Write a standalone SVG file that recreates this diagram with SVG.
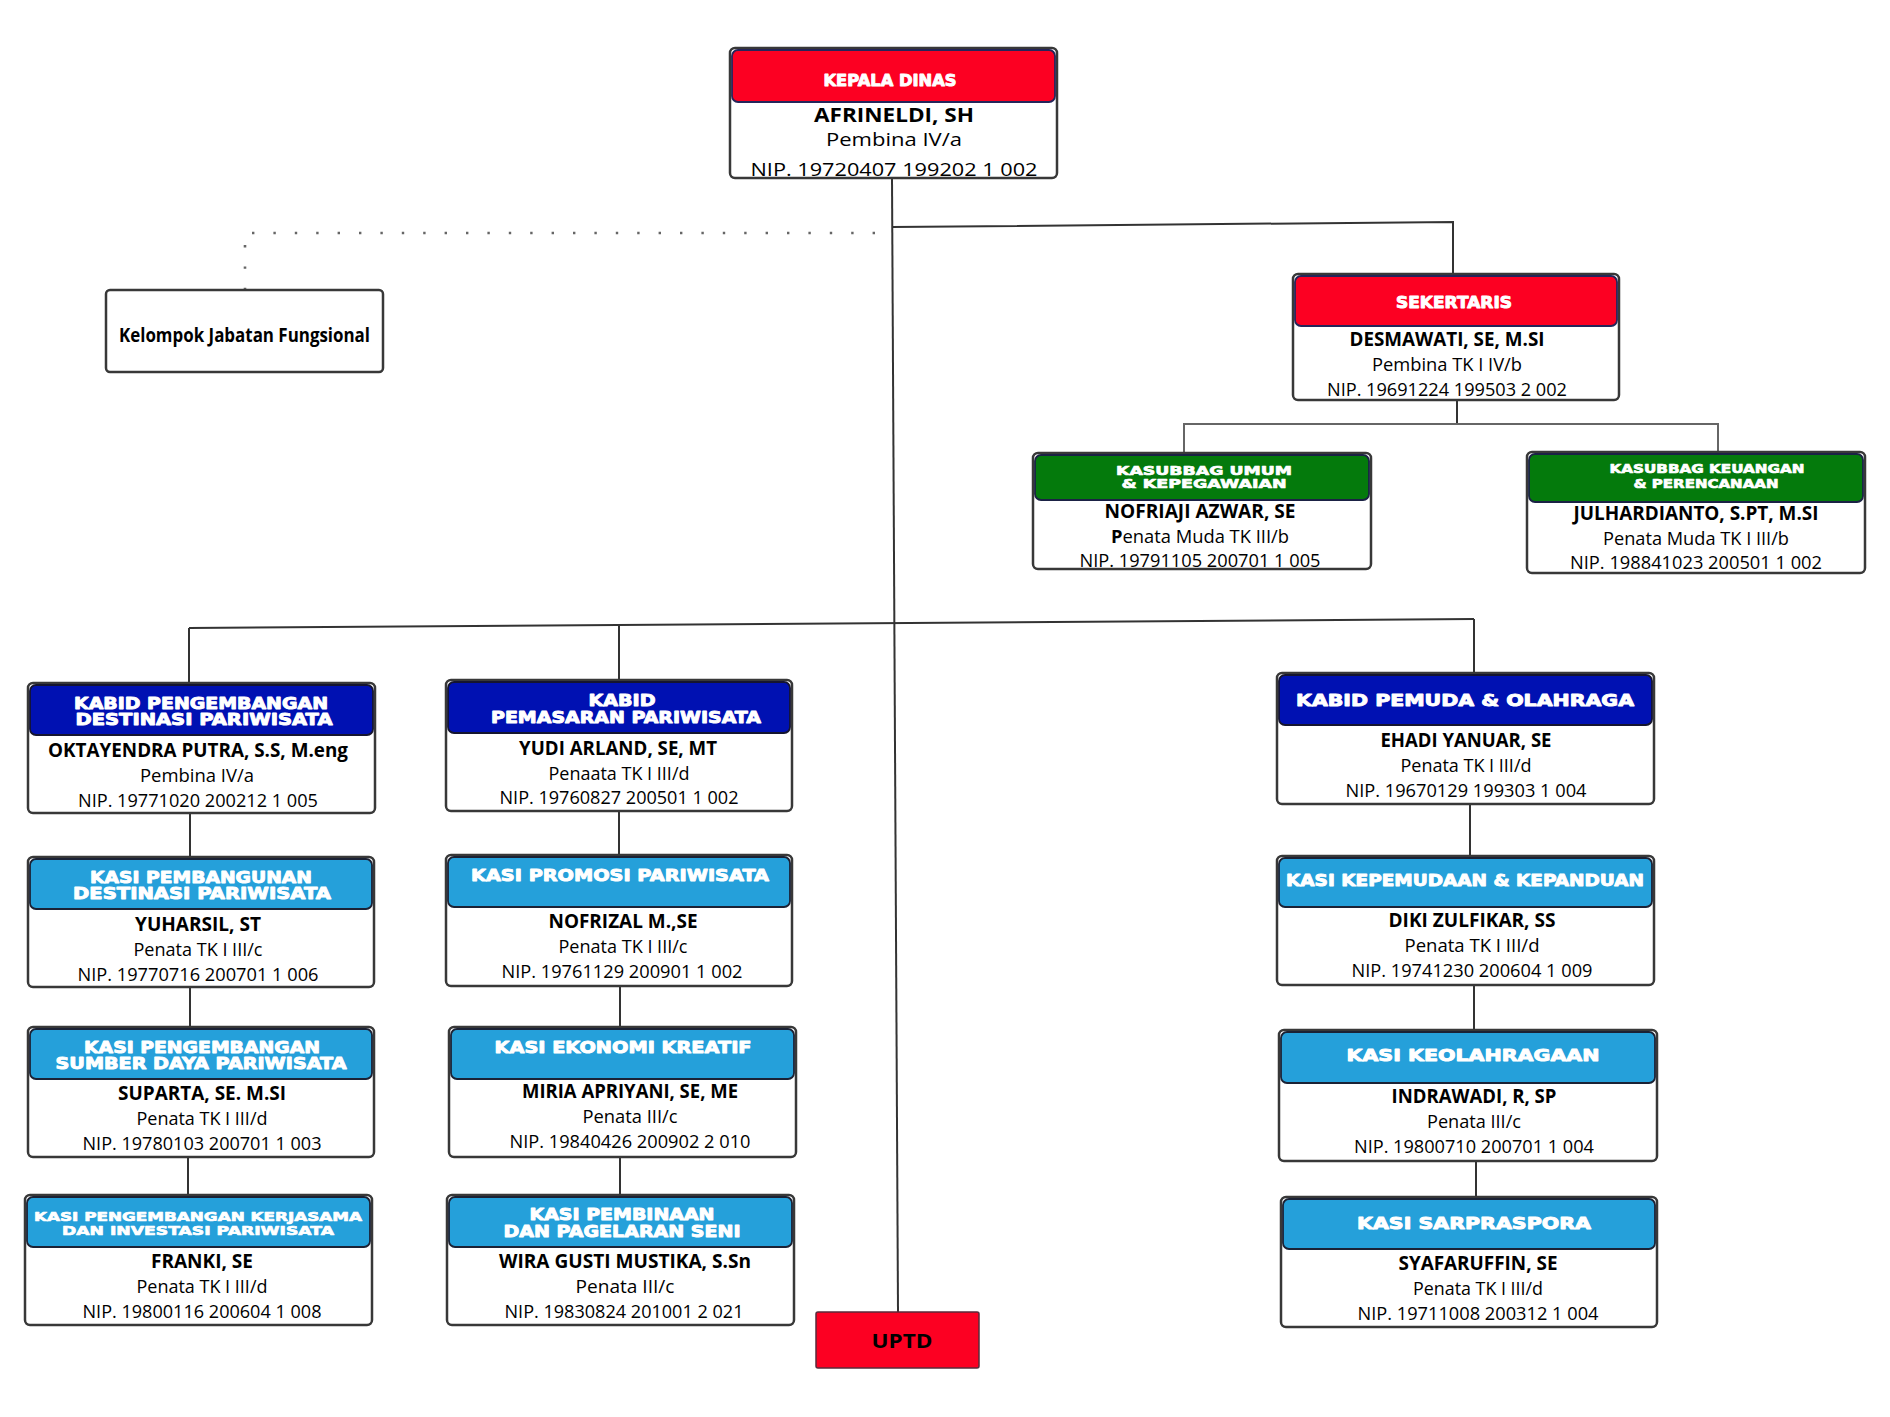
<svg xmlns="http://www.w3.org/2000/svg" width="1890" height="1417" viewBox="0 0 1890 1417">
<style>
.box{fill:#fff;stroke:#383838;stroke-width:2.5}
.hr{fill:#FC0022;stroke:#25255a;stroke-width:1.8}
.hb{fill:#0011B2;stroke:#151530;stroke-width:1.8}
.hl{fill:#25A0DA;stroke:#1b2235;stroke-width:1.8}
.hg{fill:#047A0C;stroke:#1b2245;stroke-width:1.8}
.ht{font-family:"DejaVu Sans",sans-serif;font-weight:700;fill:#fff;stroke:#fff;stroke-width:0.9;stroke-linejoin:round;text-anchor:middle;font-size:15px}
.hs{font-size:13px;stroke-width:0.7}
.nm{font-family:"Open Sans","Noto Sans",sans-serif;font-weight:700;font-size:19px;fill:#000;text-anchor:middle}
.tx{font-family:"Open Sans","Noto Sans",sans-serif;font-weight:400;font-size:18.5px;fill:#000;text-anchor:middle}
.ln{fill:none;stroke:#333;stroke-width:2}
.dot{fill:none;stroke:#666;stroke-width:2.6;stroke-dasharray:2.4 19}
</style>
<rect width="1890" height="1417" fill="#fff"/>
<g id="connectors">
<line class="ln" x1="892" y1="178" x2="898" y2="1312"/>
<polyline class="ln" points="892,227 1453,222 1453,274"/>
<polyline class="dot" points="875,233 245,233 245,290"/>
<line class="ln" x1="1457" y1="400" x2="1457" y2="424"/>
<polyline class="ln" style="stroke:#666" points="1184,453 1184,424 1718,424 1718,452"/>
<line class="ln" x1="189" y1="628" x2="1474" y2="619"/>
<line class="ln" x1="189" y1="628" x2="189" y2="683"/>
<line class="ln" x1="619" y1="625" x2="619" y2="680"/>
<line class="ln" x1="1474" y1="619" x2="1474" y2="673"/>
<line class="ln" x1="190" y1="813" x2="190" y2="857"/>
<line class="ln" x1="190" y1="987" x2="190" y2="1027"/>
<line class="ln" x1="188" y1="1157" x2="188" y2="1195"/>
<line class="ln" x1="619" y1="811" x2="619" y2="855"/>
<line class="ln" x1="620" y1="986" x2="620" y2="1027"/>
<line class="ln" x1="620" y1="1157" x2="620" y2="1195"/>
<line class="ln" x1="1470" y1="804" x2="1470" y2="856"/>
<line class="ln" x1="1474" y1="985" x2="1474" y2="1030"/>
<line class="ln" x1="1476" y1="1161" x2="1476" y2="1197"/>
</g>

<g id="kepala-dinas">
<rect class="box" x="730" y="48" width="327" height="130" rx="5"/>
<rect class="hr" x="732" y="50" width="323" height="52" rx="6"/>
<text class="ht" x="890" y="86" font-size="17" textLength="133" lengthAdjust="spacingAndGlyphs">KEPALA DINAS</text>
<text class="nm" x="894" y="122" font-size="21" textLength="160" lengthAdjust="spacingAndGlyphs">AFRINELDI, SH</text>
<text class="tx" x="894" y="146" font-size="22" textLength="136" lengthAdjust="spacingAndGlyphs">Pembina IV/a</text>
<text class="tx" x="894" y="176" font-size="22" textLength="287" lengthAdjust="spacingAndGlyphs">NIP. 19720407 199202 1 002</text>
</g>

<g id="kelompok-jabatan-fungsional">
<rect class="box" x="106" y="290" width="277" height="82" rx="4"/>
<text class="nm" x="244.5" y="342" font-size="18" textLength="251" lengthAdjust="spacingAndGlyphs">Kelompok Jabatan Fungsional</text>
</g>

<g id="sekertaris">
<rect class="box" x="1293" y="274" width="326" height="126" rx="5"/>
<rect class="hr" x="1295" y="276" width="322" height="50" rx="6"/>
<text class="ht" x="1454" y="308" font-size="18" textLength="116" lengthAdjust="spacingAndGlyphs">SEKERTARIS</text>
<text class="nm" x="1447" y="346" textLength="195" lengthAdjust="spacingAndGlyphs">DESMAWATI, SE, M.SI</text>
<text class="tx" x="1447" y="371" textLength="150" lengthAdjust="spacingAndGlyphs">Pembina TK I IV/b</text>
<text class="tx" x="1447" y="396" textLength="240" lengthAdjust="spacingAndGlyphs">NIP. 19691224 199503 2 002</text>
</g>

<g id="kasubbag-umum">
<rect class="box" x="1033" y="453" width="338" height="116" rx="5"/>
<rect class="hg" x="1035" y="455" width="334" height="45" rx="6"/>
<text class="ht hs" x="1204" y="475" textLength="176" lengthAdjust="spacingAndGlyphs">KASUBBAG UMUM</text>
<text class="ht hs" x="1204" y="488" textLength="165" lengthAdjust="spacingAndGlyphs">&amp; KEPEGAWAIAN</text>
<text class="nm" x="1200" y="518" textLength="191" lengthAdjust="spacingAndGlyphs">NOFRIAJI AZWAR, SE</text>
<text class="tx" x="1200" y="543" textLength="178" lengthAdjust="spacingAndGlyphs"><tspan font-weight="700">P</tspan>enata Muda TK III/b</text>
<text class="tx" x="1200" y="567" textLength="241" lengthAdjust="spacingAndGlyphs">NIP. 19791105 200701 1 005</text>
</g>

<g id="kasubbag-keuangan">
<rect class="box" x="1527" y="452" width="338" height="121" rx="5"/>
<rect class="hg" x="1529" y="454" width="334" height="48" rx="6"/>
<text class="ht hs" x="1707" y="473" textLength="195" lengthAdjust="spacingAndGlyphs">KASUBBAG KEUANGAN</text>
<text class="ht hs" x="1706" y="488" textLength="145" lengthAdjust="spacingAndGlyphs">&amp; PERENCANAAN</text>
<text class="nm" x="1696" y="520" textLength="245" lengthAdjust="spacingAndGlyphs">JULHARDIANTO, S.PT, M.SI</text>
<text class="tx" x="1696" y="545" textLength="186" lengthAdjust="spacingAndGlyphs">Penata Muda TK I III/b</text>
<text class="tx" x="1696" y="569" textLength="252" lengthAdjust="spacingAndGlyphs">NIP. 198841023 200501 1 002</text>
</g>

<g id="kabid-pengembangan-destinasi">
<rect class="box" x="28" y="683" width="347" height="130" rx="5"/>
<rect class="hb" x="30" y="685" width="343" height="50" rx="6"/>
<text class="ht" x="201" y="709" textLength="254" lengthAdjust="spacingAndGlyphs">KABID PENGEMBANGAN</text>
<text class="ht" x="204" y="725" textLength="257" lengthAdjust="spacingAndGlyphs">DESTINASI PARIWISATA</text>
<text class="nm" x="198" y="757" textLength="300" lengthAdjust="spacingAndGlyphs">OKTAYENDRA PUTRA, S.S, M.eng</text>
<text class="tx" x="197" y="782" textLength="114" lengthAdjust="spacingAndGlyphs">Pembina IV/a</text>
<text class="tx" x="198" y="807" textLength="240" lengthAdjust="spacingAndGlyphs">NIP. 19771020 200212 1 005</text>
</g>

<g id="kasi-pembangunan-destinasi">
<rect class="box" x="28" y="857" width="346" height="130" rx="5"/>
<rect class="hl" x="30" y="859" width="342" height="50" rx="6"/>
<text class="ht" x="201" y="883" textLength="222" lengthAdjust="spacingAndGlyphs">KASI PEMBANGUNAN</text>
<text class="ht" x="202" y="899" textLength="258" lengthAdjust="spacingAndGlyphs">DESTINASI PARIWISATA</text>
<text class="nm" x="198" y="931" textLength="126" lengthAdjust="spacingAndGlyphs">YUHARSIL, ST</text>
<text class="tx" x="198" y="956" textLength="129" lengthAdjust="spacingAndGlyphs">Penata TK I III/c</text>
<text class="tx" x="198" y="981" textLength="241" lengthAdjust="spacingAndGlyphs">NIP. 19770716 200701 1 006</text>
</g>

<g id="kasi-pengembangan-sdp">
<rect class="box" x="28" y="1027" width="346" height="130" rx="5"/>
<rect class="hl" x="30" y="1029" width="342" height="50" rx="6"/>
<text class="ht" x="202" y="1053" textLength="236" lengthAdjust="spacingAndGlyphs">KASI PENGEMBANGAN</text>
<text class="ht" x="201" y="1069" textLength="291" lengthAdjust="spacingAndGlyphs">SUMBER DAYA PARIWISATA</text>
<text class="nm" x="202" y="1100" textLength="168" lengthAdjust="spacingAndGlyphs">SUPARTA, SE. M.SI</text>
<text class="tx" x="202" y="1125" textLength="131" lengthAdjust="spacingAndGlyphs">Penata TK I III/d</text>
<text class="tx" x="202" y="1150" textLength="239" lengthAdjust="spacingAndGlyphs">NIP. 19780103 200701 1 003</text>
</g>

<g id="kasi-pengembangan-kerjasama">
<rect class="box" x="25" y="1195" width="347" height="130" rx="5"/>
<rect class="hl" x="27" y="1197" width="343" height="50" rx="6"/>
<text class="ht hs" x="198" y="1221" textLength="328" lengthAdjust="spacingAndGlyphs">KASI PENGEMBANGAN KERJASAMA</text>
<text class="ht hs" x="198" y="1235" textLength="272" lengthAdjust="spacingAndGlyphs">DAN INVESTASI PARIWISATA</text>
<text class="nm" x="202" y="1268" textLength="102" lengthAdjust="spacingAndGlyphs">FRANKI, SE</text>
<text class="tx" x="202" y="1293" textLength="131" lengthAdjust="spacingAndGlyphs">Penata TK I III/d</text>
<text class="tx" x="202" y="1318" textLength="239" lengthAdjust="spacingAndGlyphs">NIP. 19800116 200604 1 008</text>
</g>

<g id="kabid-pemasaran">
<rect class="box" x="446" y="680" width="346" height="131" rx="5"/>
<rect class="hb" x="448" y="682" width="342" height="51" rx="6"/>
<text class="ht" x="622" y="706" textLength="67" lengthAdjust="spacingAndGlyphs">KABID</text>
<text class="ht" x="626" y="723" textLength="270" lengthAdjust="spacingAndGlyphs">PEMASARAN PARIWISATA</text>
<text class="nm" x="618" y="755" textLength="198" lengthAdjust="spacingAndGlyphs">YUDI ARLAND, SE, MT</text>
<text class="tx" x="619" y="780" textLength="141" lengthAdjust="spacingAndGlyphs">Penaata TK I III/d</text>
<text class="tx" x="619" y="804" textLength="239" lengthAdjust="spacingAndGlyphs">NIP. 19760827 200501 1 002</text>
</g>

<g id="kasi-promosi">
<rect class="box" x="446" y="855" width="346" height="131" rx="5"/>
<rect class="hl" x="448" y="857" width="342" height="50" rx="6"/>
<text class="ht" x="620" y="881" textLength="298" lengthAdjust="spacingAndGlyphs">KASI PROMOSI PARIWISATA</text>
<text class="nm" x="623" y="928" textLength="149" lengthAdjust="spacingAndGlyphs">NOFRIZAL M.,SE</text>
<text class="tx" x="623" y="953" textLength="129" lengthAdjust="spacingAndGlyphs">Penata TK I III/c</text>
<text class="tx" x="622" y="978" textLength="241" lengthAdjust="spacingAndGlyphs">NIP. 19761129 200901 1 002</text>
</g>

<g id="kasi-ekonomi-kreatif">
<rect class="box" x="449" y="1027" width="347" height="130" rx="5"/>
<rect class="hl" x="451" y="1029" width="343" height="50" rx="6"/>
<text class="ht" x="623" y="1053" textLength="257" lengthAdjust="spacingAndGlyphs">KASI EKONOMI KREATIF</text>
<text class="nm" x="630" y="1098" textLength="216" lengthAdjust="spacingAndGlyphs">MIRIA APRIYANI, SE, ME</text>
<text class="tx" x="630" y="1123" textLength="95" lengthAdjust="spacingAndGlyphs">Penata III/c</text>
<text class="tx" x="630" y="1148" textLength="241" lengthAdjust="spacingAndGlyphs">NIP. 19840426 200902 2 010</text>
</g>

<g id="kasi-pembinaan">
<rect class="box" x="447" y="1195" width="347" height="130" rx="5"/>
<rect class="hl" x="449" y="1197" width="343" height="50" rx="6"/>
<text class="ht" x="622" y="1220" textLength="185" lengthAdjust="spacingAndGlyphs">KASI PEMBINAAN</text>
<text class="ht" x="622" y="1237" textLength="237" lengthAdjust="spacingAndGlyphs">DAN PAGELARAN SENI</text>
<text class="nm" x="625" y="1268" textLength="252" lengthAdjust="spacingAndGlyphs">WIRA GUSTI MUSTIKA, S.Sn</text>
<text class="tx" x="625" y="1293" textLength="99" lengthAdjust="spacingAndGlyphs">Penata  III/c</text>
<text class="tx" x="624" y="1318" textLength="239" lengthAdjust="spacingAndGlyphs">NIP. 19830824 201001 2 021</text>
</g>

<g id="kabid-pemuda-olahraga">
<rect class="box" x="1277" y="673" width="377" height="131" rx="5"/>
<rect class="hb" x="1279" y="675" width="373" height="50" rx="6"/>
<text class="ht" x="1465" y="706" textLength="338" lengthAdjust="spacingAndGlyphs">KABID PEMUDA &amp; OLAHRAGA</text>
<text class="nm" x="1466" y="747" textLength="171" lengthAdjust="spacingAndGlyphs">EHADI YANUAR, SE</text>
<text class="tx" x="1466" y="772" textLength="131" lengthAdjust="spacingAndGlyphs">Penata TK I III/d</text>
<text class="tx" x="1466" y="797" textLength="241" lengthAdjust="spacingAndGlyphs">NIP. 19670129 199303 1 004</text>
</g>

<g id="kasi-kepemudaan">
<rect class="box" x="1277" y="856" width="377" height="129" rx="5"/>
<rect class="hl" x="1279" y="858" width="373" height="49" rx="6"/>
<text class="ht" x="1465" y="886" textLength="358" lengthAdjust="spacingAndGlyphs">KASI KEPEMUDAAN &amp; KEPANDUAN</text>
<text class="nm" x="1472" y="927" textLength="167" lengthAdjust="spacingAndGlyphs">DIKI ZULFIKAR, SS</text>
<text class="tx" x="1472" y="952" textLength="135" lengthAdjust="spacingAndGlyphs">Penata  TK I III/d</text>
<text class="tx" x="1472" y="977" textLength="241" lengthAdjust="spacingAndGlyphs">NIP. 19741230 200604 1 009</text>
</g>

<g id="kasi-keolahragaan">
<rect class="box" x="1279" y="1030" width="378" height="131" rx="5"/>
<rect class="hl" x="1281" y="1032" width="374" height="51" rx="6"/>
<text class="ht" x="1473" y="1061" textLength="253" lengthAdjust="spacingAndGlyphs">KASI KEOLAHRAGAAN</text>
<text class="nm" x="1474" y="1103" textLength="165" lengthAdjust="spacingAndGlyphs">INDRAWADI, R, SP</text>
<text class="tx" x="1474" y="1128" textLength="94" lengthAdjust="spacingAndGlyphs">Penata III/c</text>
<text class="tx" x="1474" y="1153" textLength="240" lengthAdjust="spacingAndGlyphs">NIP. 19800710 200701 1 004</text>
</g>

<g id="kasi-sarpraspora">
<rect class="box" x="1281" y="1197" width="376" height="130" rx="5"/>
<rect class="hl" x="1283" y="1199" width="372" height="50" rx="6"/>
<text class="ht" x="1474" y="1229" textLength="234" lengthAdjust="spacingAndGlyphs">KASI SARPRASPORA</text>
<text class="nm" x="1478" y="1270" textLength="159" lengthAdjust="spacingAndGlyphs">SYAFARUFFIN, SE</text>
<text class="tx" x="1478" y="1295" textLength="130" lengthAdjust="spacingAndGlyphs">Penata TK I III/d</text>
<text class="tx" x="1478" y="1320" textLength="241" lengthAdjust="spacingAndGlyphs">NIP. 19711008 200312 1 004</text>
</g>

<g id="uptd">
<rect x="816" y="1312" width="163" height="56" rx="2" fill="#FC0022" stroke="#5a2a3a" stroke-width="1.5"/>
<text class="nm" x="902" y="1348" font-size="22" textLength="61" lengthAdjust="spacingAndGlyphs">UPTD</text>
</g>
</svg>
